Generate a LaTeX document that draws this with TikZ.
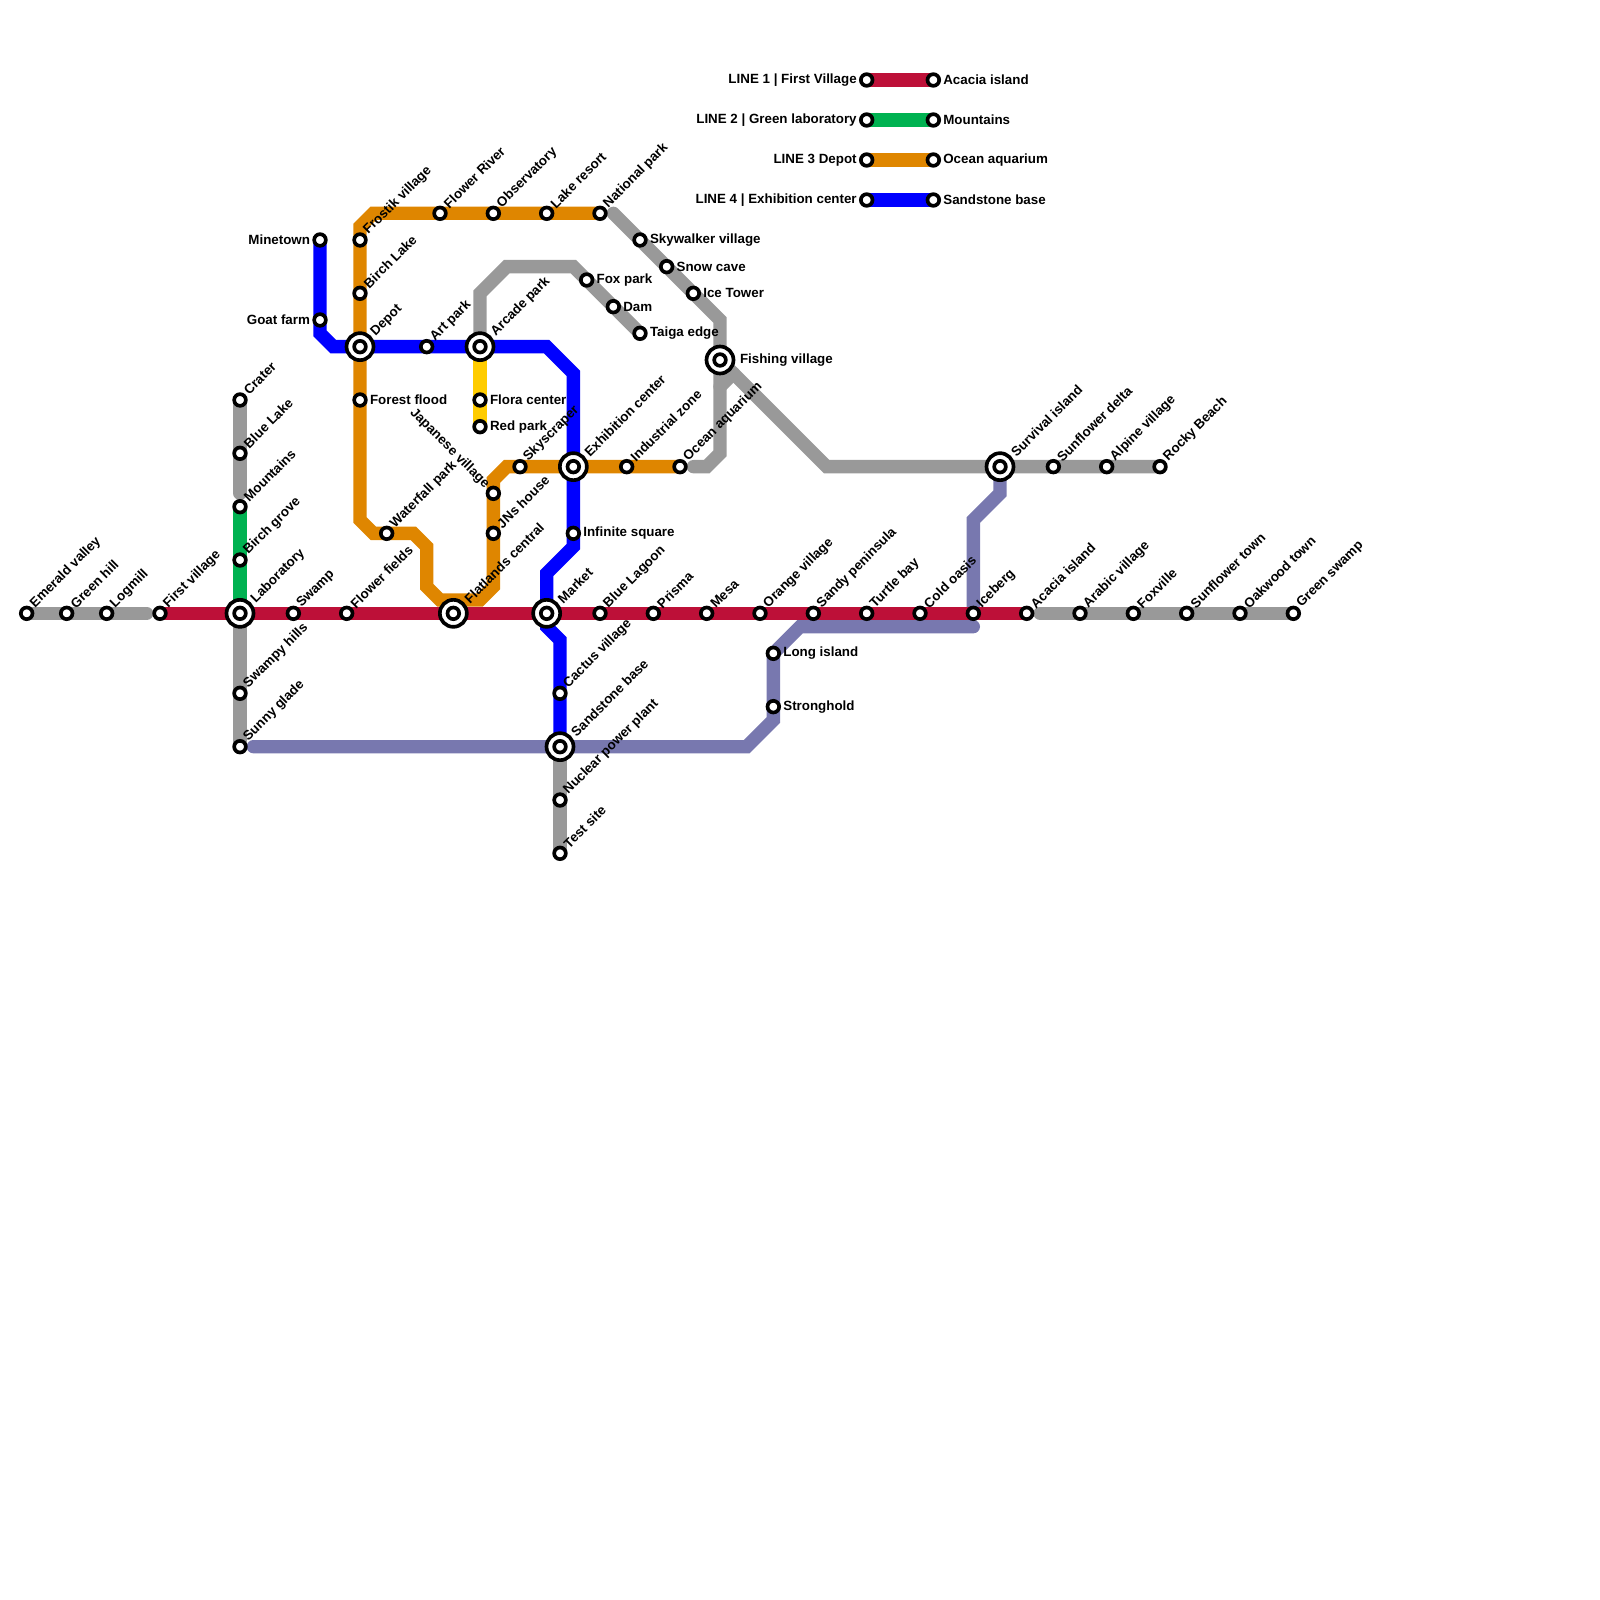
\documentclass[tikz,border=0pt]{standalone}
\usepackage{fontspec}
\setmainfont{Liberation Sans}
\definecolor{linered}{HTML}{BD1038}
\definecolor{linegreen}{HTML}{00B251}
\definecolor{lineorange}{HTML}{DF8600}
\definecolor{lineblue}{HTML}{0000FF}
\definecolor{linegray}{HTML}{999999}
\definecolor{lineyellow}{HTML}{FFCC00}
\definecolor{linepurple}{HTML}{7878AF}
\pgfdeclarelayer{lines}
\pgfsetlayers{lines,main}
\tikzset{
  metro/.style={line width=0.2cm,line cap=round,line join=miter},
  stn/.style={circle,draw=black,fill=white,line width=0.055cm,minimum size=0.175cm,inner sep=0pt,outer sep=0pt},
  xfer/.style={circle,draw=black,fill=white,line width=0.055cm,minimum size=0.405cm,inner sep=0pt,outer sep=0pt},
  lbl/.style={font=\bfseries\fontsize{5.7pt}{6pt}\selectfont,inner sep=0pt,outer sep=0pt,text=black},
  lblne/.style={lbl,xshift=0.09cm,yshift=0.115cm,rotate=45,anchor=west},
  lblxf/.style={lbl,xshift=0.2cm,yshift=0.19cm,rotate=45,anchor=west},
  lblnw/.style={lbl,xshift=-0.095cm,yshift=0.11cm,rotate=-45,anchor=east},
  lblr/.style={lbl,anchor=west,xshift=0.15cm},
  lbll/.style={lbl,anchor=east,xshift=-0.15cm}
}

\begin{document}
\begin{tikzpicture}[x=0.2cm,y=-0.2cm]
\useasboundingbox (0,0) rectangle (120,120);
% stations with the slanted names
\foreach \nm/\x/\y/\txt in {emerald/2/46/Emerald valley,greenhill/5/46/Green hill,logmill/8/46/Logmill,firstvillage/12/46/First village,swamp/22/46/Swamp,flowerfields/26/46/Flower fields,bluelagoon/45/46/Blue Lagoon,prisma/49/46/Prisma,mesa/53/46/Mesa,orangevillage/57/46/Orange village,sandypen/61/46/Sandy peninsula,turtlebay/65/46/Turtle bay,coldoasis/69/46/Cold oasis,iceberg/73/46/Iceberg,acacia/77/46/Acacia island,arabic/81/46/Arabic village,foxville/85/46/Foxville,sunflowertown/89/46/Sunflower town,oakwood/93/46/Oakwood town,greenswamp/97/46/Green swamp,crater/18/30/Crater,bluelake/18/34/Blue Lake,mountains/18/38/Mountains,birchgrove/18/42/Birch grove,swampyhills/18/52/Swampy hills,sunnyglade/18/56/Sunny glade,frostik/27/18/Frostik village,birchlake/27/22/Birch Lake,flowerriver/33/16/Flower River,observatory/37/16/Observatory,lakeresort/41/16/Lake resort,nationalpark/45/16/National park,artpark/32/26/Art park,skyscraper/39/35/Skyscraper,industrial/47/35/Industrial zone,oceanaq/51/35/Ocean aquarium,waterfall/29/40/Waterfall park,jnshouse/37/40/JNs house,cactus/42/52/Cactus village,nuclear/42/60/Nuclear power plant,testsite/42/64/Test site,sunflowerdelta/79/35/Sunflower delta,alpine/83/35/Alpine village,rocky/87/35/Rocky Beach}{
  \node[stn] (\nm) at (\x,\y) {};
  \node[lblne] (\nm-t) at (\x,\y) {\txt};
}
% names on the right
\foreach \nm/\x/\y/\txt in {forestflood/27/30/Forest flood,flora/36/30/Flora center,redpark/36/32/Red park,skywalker/48/18/Skywalker village,snowcave/50/20/Snow cave,icetower/52/22/Ice Tower,foxpark/44/21/Fox park,dam/46/23/Dam,taiga/48/25/Taiga edge,infinite/43/40/Infinite square,longisland/58/49/Long island,stronghold/58/53/Stronghold}{
  \node[stn] (\nm) at (\x,\y) {};
  \node[lblr] (\nm-t) at (\x,\y) {\txt};
}
% names on the left
\foreach \nm/\x/\y/\txt in {minetown/24/18/Minetown,goatfarm/24/24/Goat farm}{
  \node[stn] (\nm) at (\x,\y) {};
  \node[lbll] (\nm-t) at (\x,\y) {\txt};
}
\node[stn] (japanese) at (37,37) {};
\node[lblnw] (japanese-t) at (37,37) {Japanese village};
% interchanges
\foreach \nm/\x/\y/\txt in {laboratory/18/46/Laboratory,depot/27/26/Depot,arcade/36/26/Arcade park,flatlands/34/46/Flatlands central,market/41/46/Market,sandstone/42/56/Sandstone base,exhibition/43/35/Exhibition center,survival/75/35/Survival island}{
  \node[xfer] (\nm) at (\x,\y) {};
  \node[stn] (\nm-c) at (\x,\y) {};
  \node[lblxf] (\nm-t) at (\x,\y) {\txt};
}
\node[xfer] (fishing) at (54,27) {};
\node[stn] (fishing-c) at (54,27) {};
\node[lblr,xshift=0.15cm] (fishing-t) at (54,27) {Fishing village};
% bends
\foreach \nm/\x/\y in {ga/11/46,gb/18/37,gc/46/16,gd/54/24,ge/62/35,gf/52/35,gg/53/35,gh/54/34,gi/54/29,gj/55/28,gk/36/22,gl/38/20,gm/43/20,gn/78/46,oa/28/16,ob/27/17,oc/27/39,od/28/40,oe/31/40,of/32/41,og/32/44,oh/33/45,oi/36/45,oj/37/44,ok/37/36,ol/38/35,ba/24/25,bb/25/26,bc/41/26,bd/43/28,be/43/41,bf/41/43,bg/41/47,bh/42/48,pa/19/56,pb/56/56,pc/58/54,pd/60/47,pe/73/47,pf/75/37,pg/73/39}{
  \coordinate (\nm) at (\x,\y);
}
% the lines go under the stations
\begin{pgfonlayer}{lines}
\draw[metro,linepurple] (pa)--(sandstone.center)--(pb)--(pc)--(stronghold.center)--(longisland.center)--(pd)--(pe);
\draw[metro,linepurple] (survival.center)--(pf)--(pg)--(iceberg.center);
\draw[metro,linegray] (emerald.center)--(greenhill.center)--(logmill.center)--(ga);
\draw[metro,linegray] (crater.center)--(bluelake.center)--(gb);
\draw[metro,linegray] (laboratory.center)--(swampyhills.center)--(sunnyglade.center);
\draw[metro,linegray] (sandstone.center)--(nuclear.center)--(testsite.center);
\draw[metro,linegray] (gc)--(skywalker.center)--(snowcave.center)--(icetower.center)--(gd)--(fishing.center);
\draw[metro,linegray] (fishing.center)--(ge)--(survival.center)--(sunflowerdelta.center)--(alpine.center)--(rocky.center);
\draw[metro,linegray] (gf)--(gg)--(gh)--(fishing.center);
\draw[metro,linegray] (gi)--(gj);
\draw[metro,linegray] (arcade.center)--(gk)--(gl)--(gm)--(foxpark.center)--(dam.center)--(taiga.center);
\draw[metro,linegray] (gn)--(arabic.center)--(foxville.center)--(sunflowertown.center)--(oakwood.center)--(greenswamp.center);
\draw[metro,lineyellow] (arcade.center)--(flora.center)--(redpark.center);
\draw[metro,lineorange] (nationalpark.center)--(lakeresort.center)--(observatory.center)--(flowerriver.center)--(oa)--(ob)--(frostik.center)--(birchlake.center)--(depot.center)--(forestflood.center)--(oc)--(od)--(waterfall.center)--(oe)--(of)--(og)--(oh)--(oi)--(oj)--(jnshouse.center)--(japanese.center)--(ok)--(ol)--(skyscraper.center)--(exhibition.center)--(industrial.center)--(oceanaq.center);
\draw[metro,lineblue] (minetown.center)--(goatfarm.center)--(ba)--(bb)--(depot.center)--(artpark.center)--(arcade.center)--(bc)--(bd)--(exhibition.center)--(infinite.center)--(be)--(bf)--(market.center)--(bg)--(bh)--(cactus.center)--(sandstone.center);
\draw[metro,linegreen] (mountains.center)--(birchgrove.center)--(laboratory.center);
\draw[metro,linered] (firstvillage.center)--(laboratory.center)--(swamp.center)--(flowerfields.center)--(flatlands.center)--(market.center)--(bluelagoon.center)--(prisma.center)--(mesa.center)--(orangevillage.center)--(sandypen.center)--(turtlebay.center)--(coldoasis.center)--(iceberg.center)--(acacia.center);
\end{pgfonlayer}
% key
\foreach \i/\y/\col/\ltxt/\rtxt in {1/6/linered/LINE 1 | First Village/Acacia island,2/9/linegreen/LINE 2 | Green laboratory/Mountains,3/12/lineorange/LINE 3 Depot/Ocean aquarium,4/15/lineblue/LINE 4 | Exhibition center/Sandstone base}{
  \node[stn] (key\i a) at (65,\y) {};
  \node[stn] (key\i b) at (70,\y) {};
  \node[lbll] (key\i a-t) at (65,\y) {\ltxt};
  \node[lblr] (key\i b-t) at (70,\y) {\rtxt};
  \begin{pgfonlayer}{lines}
  \draw[metro,\col] (key\i a.center)--(key\i b.center);
  \end{pgfonlayer}
}
\end{tikzpicture}
\end{document}
